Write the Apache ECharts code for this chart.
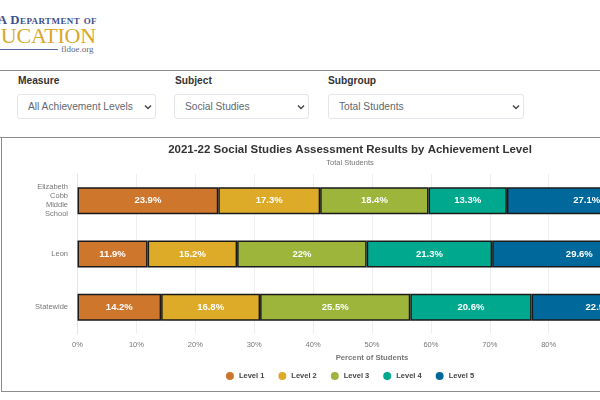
<!DOCTYPE html>
<html>
<head>
<meta charset="utf-8">
<script src="https://cdn.jsdelivr.net/npm/echarts@6/dist/echarts.min.js"></script>
<style>
    html, body { margin:0; padding:0; width:600px; height:400px; overflow:hidden; background:#fff; font-family:"Liberation Sans",Arial,sans-serif; }
    .abs { position:absolute; white-space:nowrap; }
    .logo_top { left:-12px; top:13px; width:109px; text-align:right; font-family:"Liberation Serif",serif; font-size:12.8px; font-weight:bold; color:#3c4f8c; font-variant:small-caps; letter-spacing:.4px; }
    .logo_main { left:-3px; top:23px; width:99px; text-align:right; font-family:"Liberation Serif",serif; font-size:22px; color:#d9a82e; letter-spacing:-.2px; }
    .logo_line { left:0; top:49px; width:58px; height:1px; background:#5a6aa0; }
    .logo_site { left:61px; top:44px; font-family:"Liberation Serif",serif; font-size:9px; color:#5a6a8c; }
    .rule { left:0; width:600px; height:1px; background:#8c8c8c; }
    .filter_label { top:75px; font-size:10.2px; font-weight:bold; color:#333; }
    select { position:absolute; top:94px; height:25px; padding:0 0 0 10px; box-sizing:border-box; border:1px solid #e3e6ea; border-radius:3px; color:#5f6871; font-family:"Liberation Sans",Arial,sans-serif; font-size:10.2px;
        appearance:none; -webkit-appearance:none;
        background:#fff url("data:image/svg+xml,%3Csvg xmlns='http://www.w3.org/2000/svg' width='8' height='6'%3E%3Cpath d='M1 1.5l3 3 3-3' fill='none' stroke='%23444' stroke-width='1.4'/%3E%3C/svg%3E") no-repeat right 3px center; }
    #chart_box { position:absolute; left:1px; top:137px; width:720px; height:254px; border:1px solid #8c8c8c; border-top:none; }
    #main_chart { width:696px; height:254px; }
</style>
</head>
<body>
<div class="abs logo_top">A Department of</div>
<div class="abs logo_main">UCATION</div>
<div class="abs logo_line"></div>
<div class="abs logo_site">fldoe.org</div>
<div class="abs rule" style="top:70px"></div>

<div class="abs filter_label" style="left:18px">Measure</div>
<div class="abs filter_label" style="left:175px">Subject</div>
<div class="abs filter_label" style="left:328px">Subgroup</div>
<select style="left:17px;width:139px"><option>All Achievement Levels</option></select>
<select style="left:174px;width:135px"><option>Social Studies</option></select>
<select style="left:328px;width:196px"><option>Total Students</option></select>

<div class="abs rule" style="top:137px"></div>
<div id="chart_box"><div id="main_chart"></div></div>

<script>
    var categories = ["Elizabeth\nCobb\nMiddle\nSchool", "Leon", "Statewide"];
    var level1 = [23.9, 11.9, 14.2];
    var level2 = [17.3, 15.2, 16.8];
    var level3 = [18.4, 22, 25.5];
    var level4 = [13.3, 21.3, 20.6];
    var level5 = [27.1, 29.6, 22.9];
    var levelNames = ["Level 1", "Level 2", "Level 3", "Level 4", "Level 5"];
    var levelValues = [level1, level2, level3, level4, level5];
    var levelColors = ["#ce762b", "#ddab28", "#9db53a", "#00a88e", "#00689b"];
    var fontName = '"Liberation Sans", Arial, sans-serif';

    var series = [];
    for (var i = 0; i < levelNames.length; i++) {
        series.push({
            name: levelNames[i],
            type: 'bar',
            stack: 'total',
            barWidth: 27,
            data: levelValues[i],
            itemStyle: { color: levelColors[i], borderColor: '#1a1a1a', borderWidth: 1.5 },
            label: {
                show: true,
                position: 'inside',
                formatter: '{c}%',
                color: '#fff',
                fontFamily: fontName,
                fontSize: 9.5,
                fontWeight: 'bold'
            }
        });
    }

    var option = {
        animation: false,
        color: levelColors,
        title: {
            text: '2021-22 Social Studies Assessment Results by Achievement Level',
            subtext: 'Total Students',
            left: 'center',
            top: 2,
            itemGap: 3,
            textStyle: { fontFamily: fontName, fontSize: 11.5, fontWeight: 'bold', color: '#333' },
            subtextStyle: { fontFamily: fontName, fontSize: 7.5, color: '#777' }
        },
        legend: {
            data: levelNames,
            left: 'center',
            top: 230,
            icon: 'circle',
            itemWidth: 8,
            itemHeight: 8,
            itemGap: 14,
            itemStyle: { borderWidth: 0 },
            textStyle: { fontFamily: fontName, fontSize: 7.5, fontWeight: 'bold', color: '#444' }
        },
        grid: { left: 75.5, top: 37, width: 589, height: 160 },
        xAxis: {
            type: 'value',
            min: 0,
            max: 100,
            interval: 10,
            name: 'Percent of Students',
            nameLocation: 'middle',
            nameGap: 16,
            nameTextStyle: { fontFamily: fontName, fontSize: 7.7, fontWeight: 'bold', color: '#777' },
            axisLabel: { formatter: '{value}%', fontFamily: fontName, fontSize: 7.5, color: '#777', margin: 7 },
            axisLine: { show: false },
            axisTick: { show: false },
            splitLine: { lineStyle: { color: '#eeeeee' } }
        },
        yAxis: {
            type: 'category',
            inverse: true,
            data: categories,
            axisLabel: { fontFamily: fontName, fontSize: 7.5, color: '#777', margin: 9.5, lineHeight: 9, padding: [4, 0, 0, 0] },
            axisLine: { lineStyle: { color: '#dfe6f2' } },
            axisTick: { show: false }
        },
        series: series
    };

    var main_chart = echarts.init(document.getElementById('main_chart'));
    main_chart.setOption(option);
</script>
</body>
</html>
